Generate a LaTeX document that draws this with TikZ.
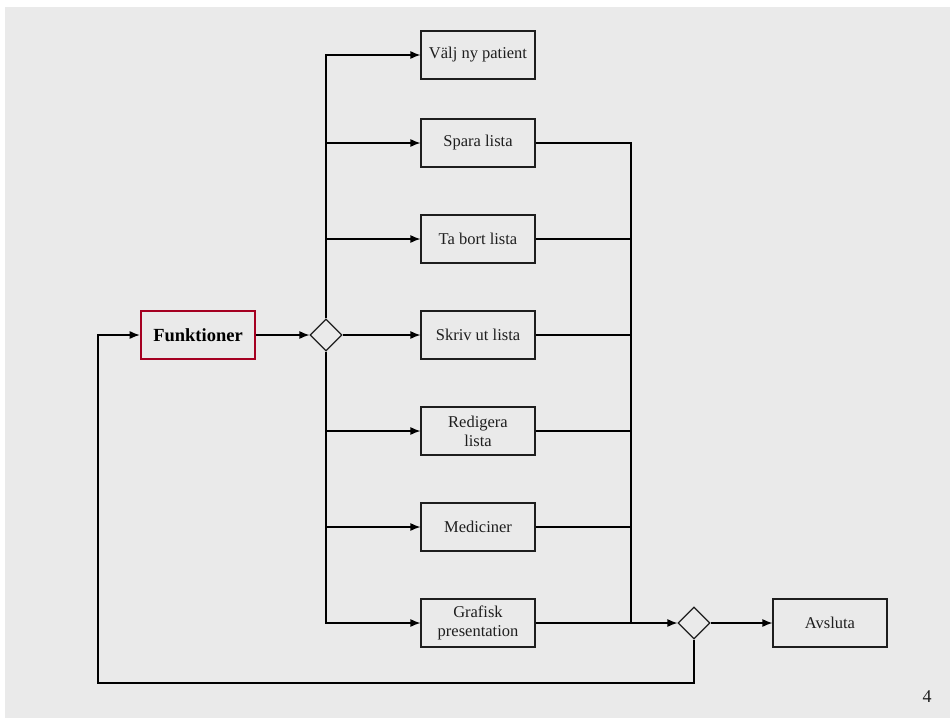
\documentclass[tikz,border=0pt]{standalone}
\usepackage{fontspec}
\setmainfont{Liberation Serif}
\usepackage{tikz}
\usetikzlibrary{arrows.meta,positioning,shapes.geometric}

\definecolor{bg}{RGB}{234,234,234}
\definecolor{frame}{RGB}{165,0,33}
\definecolor{ink}{RGB}{30,30,30}

\tikzset{
    box/.style={draw=ink, line width=1.2pt, minimum width=114pt, minimum height=48pt,
        inner sep=2pt, align=center, text=ink, font=\fontsize{16.5}{19}\selectfont},
    choice/.style={diamond, draw=ink, line width=1.2pt, minimum width=32pt,
        minimum height=32pt, inner sep=0pt},
    flow/.style={line width=1.2pt, -{Latex[length=10pt, width=8pt]}},
    wire/.style={line width=1.2pt}
}

\begin{document}
\begin{tikzpicture}[x=1pt, y=-1pt]
        \useasboundingbox (0, 0) rectangle (950, 718);
        \fill[white] (0, 0) rectangle (950, 718);
        \fill[bg] (5, 7) rectangle (950, 718);

        \node[box, draw=frame, line width=2.6pt, text=black,
            font=\fontsize{18.5}{21}\selectfont\bfseries] (funk) at (198, 335) {Funktioner};
        \node[choice] (val1) at (326, 335) {};

        \node[box] (valj) at (478, 55) {Välj ny patient};
        \node[box] (spara) at (478, 143) {Spara lista};
        \node[box] (tabort) at (478, 239) {Ta bort lista};
        \node[box] (skriv) at (478, 335) {Skriv ut lista};
        \node[box] (redig) at (478, 431) {Redigera\\lista};
        \node[box] (medic) at (478, 527) {Mediciner};
        \node[box] (graf) at (478, 623) {Grafisk\\presentation};

        \node[choice] (val2) at (694, 623) {};
        \node[box] (avsl) at (830, 623) {Avsluta};
        \node[text=ink, font=\fontsize{18}{21}\selectfont] (sida) at (927, 697) {4};

        \coordinate (samla) at (631, 623);
        \coordinate (retur) at (98, 683);

        \draw[flow] (funk.east) -- (val1.west);
        % grenar upp
        \draw[flow] (val1.north) |- (valj.west);
        \draw[flow] (val1.north) |- (spara.west);
        \draw[flow] (val1.north) |- (tabort.west);
        \draw[flow] (val1.east) -- (skriv.west);
        % grenar ner
        \draw[flow] (val1.south) |- (redig.west);
        \draw[flow] (val1.south) |- (medic.west);
        \draw[flow] (val1.south) |- (graf.west);

        \draw[wire] (spara.east) -| (samla);
        \draw[wire] (tabort.east) -| (samla);
        \draw[wire] (skriv.east) -| (samla);
        \draw[wire] (redig.east) -| (samla);
        \draw[wire] (medic.east) -| (samla);
        \draw[flow] (graf.east) -- (val2.west);

        \draw[flow] (val2.east) -- (avsl.west);
        \draw[flow] (val2.south) |- (retur) |- (funk.west); % tillbaka
    \end{tikzpicture}
\end{document}
